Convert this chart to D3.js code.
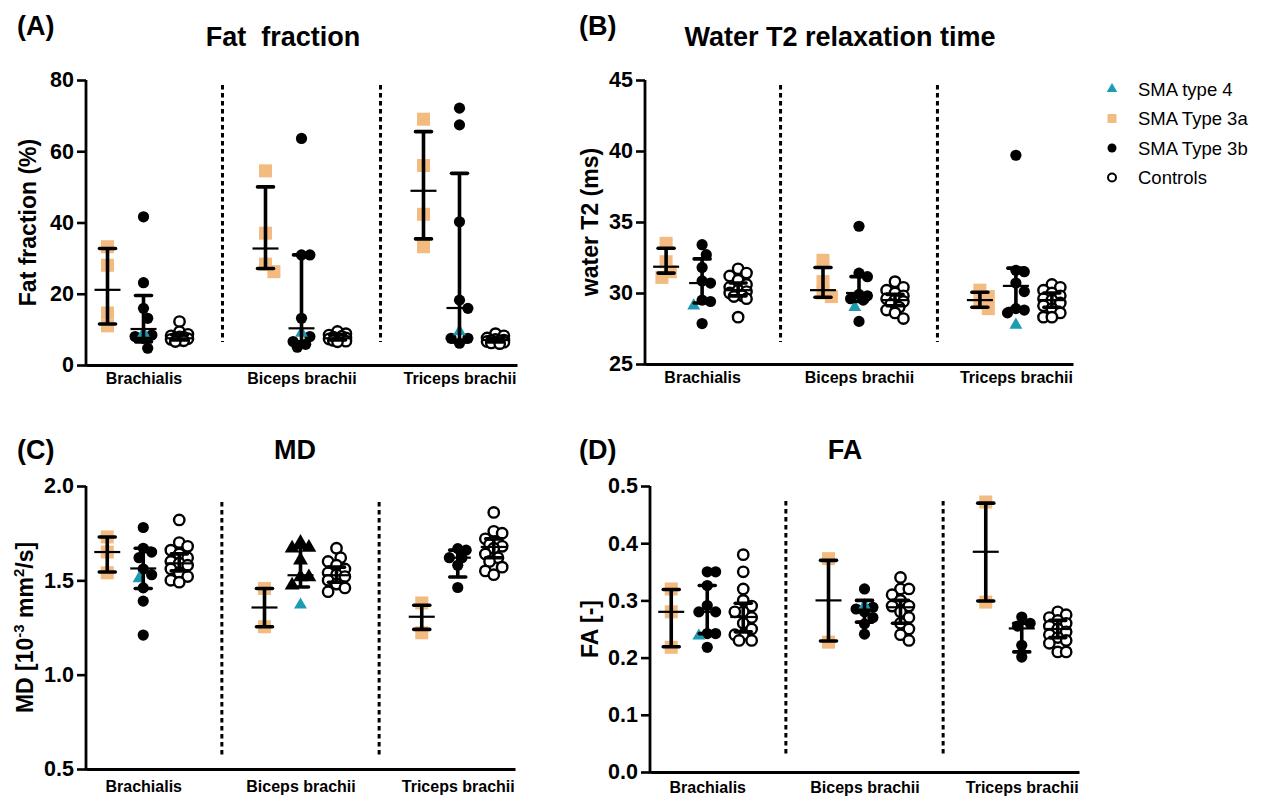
<!DOCTYPE html>
<html lang="en">
<head>
<meta charset="utf-8">
<title>SMA upper arm MRI</title>
<script src="https://d3js.org/d3.v7.min.js"></script>
<style>
body { margin: 0; background: #fff; }
svg text { font-family: Arial, "Liberation Sans", sans-serif; fill: #000; }
</style>
</head>
<body>
<svg id="chart" width="1263" height="796"></svg>
<script>
var muscles = ['Brachialis', 'Biceps brachii', 'Triceps brachii'];
var groups = ['SMA Type 3a', 'SMA Type 3b', 'Controls'];
var legendLabels = ['SMA type 4', 'SMA Type 3a', 'SMA Type 3b', 'Controls'];

var orange = '#f4bb81';
var teal = '#1d9bb3';

// (A) fat fraction, per muscle
var ffType3a = [[33.2, 28, 14.6, 11], [54.5, 37, 28.3, 26.2], [69, 56, 42.3, 33.2]];
var ffType3b = [[41.6, 23.1, 15.9, 13.1, 8.4, 8, 7.5, 4.7],
                [63.6, 30.9, 30.9, 13.1, 8, 6.6, 5.8, 5],
                [72.1, 67.4, 40.2, 18.2, 15.9, 7.5, 7.5, 6.1]];
var ffControls = [[12.2, 9.3, 8.6, 8.2, 7.9, 7.8, 7.6, 7.4, 7.2, 7.0, 6.8, 6.6],
                  [9.4, 8.8, 8.4, 8.0, 7.8, 7.6, 7.5, 7.3, 7.1, 6.9, 6.7, 6.5],
                  [8.8, 8.2, 7.6, 7.2, 7.0, 6.9, 6.8, 6.6, 6.5, 6.4, 6.2, 6.0]];
var ffType4 = [9, 9, 9.4];
var ffCenter = [[21.1, 10.1, 7.5], [32.7, 10.3, 7.5], [48.9, 16.0, 7.0]];
var ffLow = [[11.5, 6.5, 7.0], [27.1, 6.5, 7.0], [35.4, 6.5, 6.5]];
var ffHigh = [[32.7, 19.5, 8.5], [50.0, 30.9, 8.5], [65.5, 53.8, 7.5]];

// (B) water T2
var t2Type3a = [[33.5, 32.2, 31.5, 31.1], [32.3, 30.8, 30.0, 29.75], [30.2, 29.75, 29.3, 28.9]];
var t2Type3b = [[33.4, 32.7, 31.8, 30.85, 30.7, 29.5, 29.4, 27.85],
                [34.7, 31.4, 31.15, 29.9, 29.8, 29.6, 29.5, 28.0],
                [39.7, 31.6, 31.5, 30.7, 30.1, 28.9, 28.8, 28.6]];
var t2Controls = [[31.7, 31.4, 31.2, 30.9, 30.6, 30.4, 30.2, 30.1, 30.0, 29.8, 29.75, 29.6, 28.3],
                  [30.8, 30.4, 30.2, 30.0, 29.8, 29.6, 29.5, 29.4, 29.2, 29.0, 28.8, 28.6, 28.2],
                  [30.6, 30.4, 30.2, 30.0, 29.8, 29.6, 29.5, 29.3, 29.1, 28.9, 28.6, 28.3, 28.3]];
var t2Type4 = [29.1, 29.0, 27.75];
var t2Center = [[31.85, 30.7, 30.2], [30.2, 30.0, 29.5], [29.5, 30.5, 29.5]];
var t2Low = [[31.4, 29.3, 29.8], [29.7, 29.4, 29.1], [29.0, 28.9, 29.0]];
var t2High = [[33.15, 32.4, 30.7], [31.8, 31.15, 29.9], [30.05, 31.75, 30.0]];

// (C) MD
var mdType3a = [[1.73, 1.65, 1.54], [1.457, 1.254], [1.38, 1.222]];
var mdType3b = [[1.78, 1.67, 1.65, 1.62, 1.56, 1.53, 1.46, 1.39, 1.21],
                [1.70, 1.674, 1.67, 1.607, 1.518, 1.518, 1.474],
                [1.668, 1.66, 1.62, 1.62, 1.58, 1.462]];
var mdControls = [[1.82, 1.70, 1.68, 1.66, 1.64, 1.62, 1.60, 1.59, 1.58, 1.56, 1.54, 1.52, 1.50, 1.49],
                  [1.67, 1.62, 1.60, 1.58, 1.56, 1.54, 1.53, 1.52, 1.50, 1.48, 1.46, 1.44],
                  [1.86, 1.76, 1.75, 1.72, 1.70, 1.69, 1.68, 1.67, 1.64, 1.62, 1.60, 1.57, 1.55, 1.53]];
var mdType4 = [1.51, 1.37, null];
var mdCenter = [[1.65, 1.563, 1.59], [1.356, 1.527, 1.527], [1.307, 1.62, 1.677]];
var mdLow = [[1.544, 1.457, 1.55], [1.254, 1.465, 1.49], [1.24, 1.518, 1.62]];
var mdHigh = [[1.73, 1.67, 1.64], [1.457, 1.674, 1.57], [1.368, 1.66, 1.72]];

// (D) FA
var faType3a = [[0.32, 0.28, 0.218], [0.373, 0.227], [0.472, 0.297]];
var faType3b = [[0.35, 0.35, 0.326, 0.291, 0.28, 0.28, 0.242, 0.242, 0.218],
                [0.32, 0.288, 0.285, 0.28, 0.27, 0.259, 0.241],
                [0.271, 0.26, 0.255, 0.2215, 0.201]];
var faControls = [[0.38, 0.35, 0.32, 0.30, 0.29, 0.28, 0.28, 0.27, 0.26, 0.25, 0.24, 0.24, 0.23, 0.23],
                  [0.34, 0.32, 0.32, 0.31, 0.30, 0.29, 0.29, 0.28, 0.27, 0.26, 0.25, 0.24, 0.23],
                  [0.28, 0.275, 0.27, 0.265, 0.26, 0.255, 0.25, 0.245, 0.24, 0.235, 0.23, 0.225, 0.21, 0.21]];
var faType4 = [0.238, 0.291, null];
var faCenter = [[0.28, 0.28, 0.271], [0.30, 0.284, 0.288], [0.385, 0.251, 0.25]];
var faLow = [[0.219, 0.242, 0.245], [0.229, 0.262, 0.26], [0.299, 0.21, 0.235]];
var faHigh = [[0.319, 0.326, 0.295], [0.370, 0.30, 0.30], [0.470, 0.26, 0.265]];

var panels = [
  {letter: '(A)', title: 'Fat\u00a0\u00a0fraction', ylab: 'Fat fraction (%)', domain: [0, 80], ticks: [0, 20, 40, 60, 80], fmt: d3.format('d'),
   x0: 86, x1: 517, yTop: 80, yBot: 365, dashTop: 85, dashBot: 342, titleX: 283, titleY: 46, letterX: 17, letterY: 35,
   ylabX: 36, catPad: 8, values: [ffType3a, ffType3b, ffControls], type4: ffType4, center: ffCenter, low: ffLow, high: ffHigh,
   shape3b: ['dot', 'dot', 'dot']},
  {letter: '(B)', title: 'Water T2 relaxation time', ylab: 'water T2 (ms)', domain: [25, 45], ticks: [25, 30, 35, 40, 45], fmt: d3.format('d'),
   x0: 645, x1: 1073, yTop: 80, yBot: 364, dashTop: 85, dashBot: 342, titleX: 840, titleY: 46, letterX: 579, letterY: 35,
   ylabX: 598, catPad: 8, values: [t2Type3a, t2Type3b, t2Controls], type4: t2Type4, center: t2Center, low: t2Low, high: t2High,
   shape3b: ['dot', 'dot', 'dot']},
  {letter: '(C)', title: 'MD', ylab: 'MD', domain: [0.5, 2.0], ticks: [0.5, 1.0, 1.5, 2.0], fmt: d3.format('.1f'),
   x0: 86, x1: 515, yTop: 486, yBot: 769, dashTop: 502, dashBot: 755, titleX: 295, titleY: 459, letterX: 17, letterY: 459,
   ylabX: 33, catPad: 12, values: [mdType3a, mdType3b, mdControls], type4: mdType4, center: mdCenter, low: mdLow, high: mdHigh,
   shape3b: ['dot', 'triangle', 'dot']},
  {letter: '(D)', title: 'FA', ylab: 'FA [-]', domain: [0, 0.5], ticks: [0, 0.1, 0.2, 0.3, 0.4, 0.5], fmt: d3.format('.1f'),
   x0: 650, x1: 1079, yTop: 486, yBot: 772, dashTop: 501, dashBot: 755, titleX: 845, titleY: 459, letterX: 579, letterY: 459,
   ylabX: 598, catPad: 10, values: [faType3a, faType3b, faControls], type4: faType4, center: faCenter, low: faLow, high: faHigh,
   shape3b: ['dot', 'dot', 'dot']}
];

var svg = d3.select('#chart');

// spread points of one column sideways when they overlap (like a scatter dot plot)
function swarm(items, y, cx) {
  var step = 4.2, minDist = 10, placed = [];
  items.sort(function(a, b) { return b.v - a.v; });
  items.forEach(function(it) {
    var py = y(it.v), best = null, bestD = -1;
    var ks = [0, 1, -1, 2, -2];
    for (var i = 0; i < ks.length; i++) {
      var px = cx + ks[i] * step;
      var d = d3.min(placed, function(p) { return Math.hypot(p.x - px, p.y - py); });
      if (d === undefined) d = 999;
      if (d >= minDist) { best = px; break; }
      if (d > bestD) { bestD = d; best = px; }
    }
    it.x = best; it.y = py;
    placed.push(it);
  });
  return items;
}

var sqSym = d3.symbol().type(d3.symbolSquare).size(170);
var triSym = d3.symbol().type(d3.symbolTriangle).size(72);

function drawMark(g, it) {
  if (it.kind === 'square') {
    g.append('path').attr('d', sqSym()).attr('transform', 'translate(' + it.x + ',' + it.y + ')').attr('fill', orange);
  } else if (it.kind === 'type4') {
    g.append('path').attr('d', triSym()).attr('transform', 'translate(' + it.x + ',' + it.y + ')').attr('fill', teal);
  } else if (it.kind === 'triangle') {
    g.append('path').attr('d', d3.symbol().type(d3.symbolTriangle).size(95)()).attr('transform', 'translate(' + it.x + ',' + it.y + ')').attr('fill', '#000');
  } else if (it.kind === 'dot') {
    g.append('circle').attr('cx', it.x).attr('cy', it.y).attr('r', 5.6).attr('fill', '#000');
  } else {
    g.append('circle').attr('cx', it.x).attr('cy', it.y).attr('r', 5.2).attr('fill', '#fff').attr('stroke', '#000').attr('stroke-width', 2.4);
  }
}

panels.forEach(function(p) {
  var g = svg.append('g');
  var y = d3.scaleLinear().domain(p.domain).range([p.yBot, p.yTop]);
  var xm = d3.scalePoint().domain(muscles).range([p.x0, p.x1]).padding(0.364);
  var xg = d3.scalePoint().domain(groups).range([-36, 36]);

  // dotted separators
  for (var i = 0; i < muscles.length - 1; i++) {
    var sx = (xm(muscles[i]) + xm(muscles[i + 1])) / 2;
    g.append('line').attr('x1', sx).attr('x2', sx).attr('y1', p.dashTop).attr('y2', p.dashBot)
      .attr('stroke', '#000').attr('stroke-width', 3).attr('stroke-dasharray', '4.5,3.5');
  }

  var pts = g.append('g');
  muscles.forEach(function(m, mi) {
    groups.forEach(function(grp, gi) {
      var cx = xm(m) + xg(grp);
      var kind = gi === 0 ? 'square' : (gi === 1 ? p.shape3b[mi] : 'open');
      var items = p.values[gi][mi].map(function(v) { return {v: v, kind: kind}; });
      if (gi === 1 && p.type4[mi] != null) items.push({v: p.type4[mi], kind: 'type4'});
      swarm(items, y, cx);
      // draw teal last so it sits on top
      items.filter(function(d) { return d.kind !== 'type4'; }).forEach(function(it) { drawMark(pts, it); });
      items.filter(function(d) { return d.kind === 'type4'; }).forEach(function(it) { drawMark(pts, it); });
    });
  });

  // error bars
  var bars = g.append('g').attr('stroke', '#000').attr('fill', 'none');
  muscles.forEach(function(m, mi) {
    groups.forEach(function(grp, gi) {
      var cx = xm(m) + xg(grp);
      var c = p.center[mi][gi], lo = p.low[mi][gi], hi = p.high[mi][gi];
      bars.append('line').attr('x1', cx).attr('x2', cx).attr('y1', y(hi)).attr('y2', y(lo)).attr('stroke-width', 3.6);
      [hi, lo].forEach(function(v) {
        bars.append('line').attr('x1', cx - 8).attr('x2', cx + 8).attr('y1', y(v)).attr('y2', y(v))
          .attr('stroke-width', 3.6).attr('stroke-linecap', 'round');
      });
      bars.append('line').attr('x1', cx - 13).attr('x2', cx + 13).attr('y1', y(c)).attr('y2', y(c)).attr('stroke-width', 2.2);
    });
  });

  // axes
  var ya = g.append('g').attr('transform', 'translate(' + p.x0 + ',0)')
    .call(d3.axisLeft(y).tickValues(p.ticks).tickFormat(p.fmt).tickSize(9).tickPadding(3).tickSizeOuter(0));
  ya.select('.domain').attr('stroke-width', 2.8).attr('d', 'M0,' + (p.yBot + 1.4) + 'V' + p.yTop);
  ya.selectAll('.tick line').attr('stroke-width', 2.6);
  ya.selectAll('.tick text').attr('font-size', 21.5).attr('font-weight', 'bold').attr('fill', '#000')
    .style('font-family', 'Arial, "Liberation Sans", sans-serif');

  var xa = g.append('g').attr('transform', 'translate(0,' + p.yBot + ')')
    .call(d3.axisBottom(xm).tickSize(0).tickSizeOuter(0).tickPadding(p.catPad));
  xa.select('.domain').attr('stroke-width', 2.8);
  xa.selectAll('.tick text').attr('font-size', 16).attr('font-weight', 'bold').attr('fill', '#000')
    .style('font-family', 'Arial, "Liberation Sans", sans-serif');

  // titles
  g.append('text').attr('x', p.letterX).attr('y', p.letterY).attr('font-size', 27).attr('font-weight', 'bold').text(p.letter);
  g.append('text').attr('x', p.titleX).attr('y', p.titleY).attr('text-anchor', 'middle')
    .attr('font-size', 27).attr('font-weight', 'bold').text(p.title);

  var yl = g.append('text').attr('transform', 'translate(' + p.ylabX + ',' + ((p.yTop + p.yBot) / 2) + ') rotate(-90)')
    .attr('text-anchor', 'middle').attr('font-size', 23).attr('font-weight', 'bold');
  if (p.letter === '(C)') {
    yl.append('tspan').text('MD [10');
    yl.append('tspan').attr('font-size', 15).attr('dy', -9).text('-3');
    yl.append('tspan').attr('dy', 9).text(' mm');
    yl.append('tspan').attr('font-size', 15).attr('dy', -9).text('2');
    yl.append('tspan').attr('dy', 9).text('/s]');
  } else {
    yl.text(p.ylab);
  }
});

// legend
var lg = svg.append('g');
var legendKinds = ['type4', 'square', 'dot', 'open'];
legendLabels.forEach(function(lab, i) {
  var ly = 89 + i * 29.5;
  if (legendKinds[i] === 'type4') {
    lg.append('path').attr('d', d3.symbol().type(d3.symbolTriangle).size(48)()).attr('transform', 'translate(1112,' + ly + ')').attr('fill', teal);
  } else if (legendKinds[i] === 'square') {
    lg.append('rect').attr('x', 1107.5).attr('y', ly - 4.5).attr('width', 9).attr('height', 9).attr('fill', orange);
  } else if (legendKinds[i] === 'dot') {
    lg.append('circle').attr('cx', 1112).attr('cy', ly).attr('r', 4.5).attr('fill', '#000');
  } else {
    lg.append('circle').attr('cx', 1112).attr('cy', ly).attr('r', 4).attr('fill', '#fff').attr('stroke', '#000').attr('stroke-width', 2);
  }
  lg.append('text').attr('x', 1138).attr('y', ly + 6.5).attr('font-size', 18.5).text(lab);
});
</script>
</body>
</html>
